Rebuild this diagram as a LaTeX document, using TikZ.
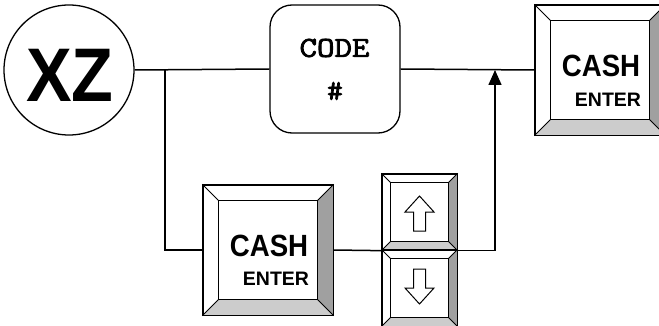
\documentclass[tikz,border=0pt]{standalone}
\usepackage{fontspec}
\setmainfont{Liberation Sans}
\newfontfamily\codefont[FakeBold=2.5]{Latin Modern Mono}
\usetikzlibrary{calc,arrows.meta}

\definecolor{keydark}{RGB}{160,160,160}
\definecolor{keylight}{RGB}{204,204,204}

\tikzset{
  wire/.style={line width=1.5pt},
  key/.style={draw, fill=white, line width=1.3pt, inner sep=0pt},
  keyline/.style={line width=1pt},
  bigkey/.style={key, minimum width=130pt, minimum height=130pt},
  smallkey/.style={key, minimum width=75pt, minimum height=76pt},
  cashlbl/.style={inner sep=0pt, font=\fontsize{30.7}{30}\selectfont\bfseries},
  enterlbl/.style={inner sep=0pt, font=\fontsize{19.5}{20}\selectfont\bfseries},
  codelbl/.style={inner sep=0pt, font=\codefont\fontsize{29}{29}\selectfont},
  arrowglyph/.style={draw, fill=white, line width=1pt, line join=miter}
}

% bevelled key face: node name, bevel depth
\newcommand{\keybevel}[2]{
  \coordinate (#1-nw) at ($(#1.north west)+(#2,#2)$);
  \coordinate (#1-ne) at ($(#1.north east)+(-#2,#2)$);
  \coordinate (#1-sw) at ($(#1.south west)+(#2,-#2)$);
  \coordinate (#1-se) at ($(#1.south east)+(-#2,-#2)$);
  \fill[keydark] (#1.north east) -- (#1.south east) -- (#1-se) -- (#1-ne) -- cycle;
  \fill[keylight] (#1.south west) -- (#1.south east) -- (#1-se) -- (#1-sw) -- cycle;
  \draw[keyline] (#1.north west) -- (#1-nw) (#1.north east) -- (#1-ne)
    (#1.south west) -- (#1-sw) (#1.south east) -- (#1-se);
  \draw[keyline] (#1-nw) rectangle (#1-se);
  \draw[line width=1.3pt] (#1.north west) rectangle (#1.south east);
}

% hollow arrow on a cursor key: centre, 1 = up, -1 = down
\newcommand{\hollowarrow}[2]{
  \draw[arrowglyph, shift={(#1)}, yscale=#2]
    (0,-16) -- (14.5,0) -- (6,0) -- (6,19) -- (-6,19) -- (-6,0) -- (-14.5,0) -- cycle;
}

\begin{document}
\begin{tikzpicture}[x=1pt, y=-1pt]
\useasboundingbox (0,0) rectangle (659,326);

% Start and code entry
\node[draw, circle, line width=1.3pt, minimum size=130pt, inner sep=0pt] (xz) at (69,70) {};
\node[inner sep=0pt, font=\fontsize{76}{76}\selectfont\bfseries] (xz-t) at (70,75)
  {\scalebox{0.9}[1]{XZ}};
\node[draw, rounded corners=22pt, line width=1.3pt, minimum width=130pt, minimum height=128pt] (code) at (335,69) {};
\node[codelbl] (code-t) at (334.5,48) {\scalebox{1.17}[1]{CODE}};
\node[codelbl] (code-h) at (335,91) {\scalebox{1.05}[1]{\#}};

% Keys
\node[bigkey] (cashR) at (600,70) {};
\keybevel{cashR}{16}
\node[cashlbl] (cashR-c) at ($(cashR)+(1,-4)$) {\scalebox{0.9}[1]{CASH}};
\node[enterlbl] (cashR-e) at ($(cashR)+(8,30)$) {ENTER};

\node[bigkey] (cashL) at (268,250) {};
\keybevel{cashL}{16}
\node[cashlbl] (cashL-c) at ($(cashL)+(1,-4)$) {\scalebox{0.9}[1]{CASH}};
\node[enterlbl] (cashL-e) at ($(cashL)+(8,29)$) {ENTER};

\node[smallkey] (up) at (419.5,212) {};
\keybevel{up}{9}
\hollowarrow{up}{1}
\node[smallkey] (down) at (419.5,288) {};
\keybevel{down}{9}
\hollowarrow{down}{-1}

% Connectors
\coordinate (br) at (165,70);
\coordinate (mg) at (495,70);
\draw[wire] (xz.east) -- (code.west);
\draw[wire] (code.east) -- (cashR.west);
\draw[wire] (br) |- (cashL.west);
\draw[wire] (cashL.east) -- (up.south west);
\draw[wire, -{Triangle[length=15pt, width=13pt]}] (up.south east) -| (mg);
\end{tikzpicture}
\end{document}
